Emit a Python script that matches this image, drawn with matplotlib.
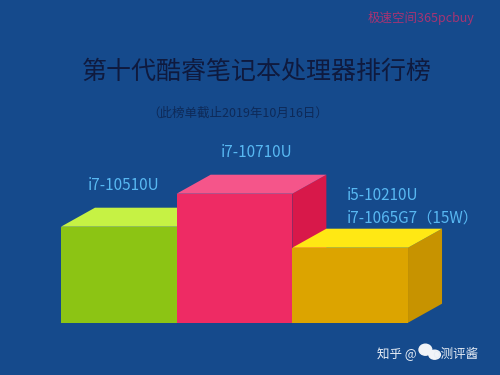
import matplotlib.pyplot as plt
from matplotlib.patches import Polygon, Ellipse

plt.rcParams['font.family'] = ['Noto Sans CJK SC', 'DejaVu Sans']

# data (bar heights, relative units)
cpus = ["i7-10510U", "i7-10710U", "i5-10210U\ni7-1065G7（15W）"]
scores = [96, 129, 75]
front_cols = ["#8cc414", "#ee2b64", "#dca400"]
top_cols = ["#c6f244", "#f5558a", "#ffe814"]
side_cols = ["#78a810", "#d8184a", "#c79300"]

bg = "#154a8c"
fig = plt.figure(figsize=(5, 3.75), dpi=100)
fig.patch.set_facecolor(bg)
ax = fig.add_axes([0, 0, 1, 1])
ax.set_facecolor(bg)
ax.set_xlim(-0.527, 3.795)
ax.set_ylim(-52.3, 322.7)
ax.axis("off")

dx, dy = 0.294, 19  # oblique depth of the boxes
label_dx = [0.23, 0.38, 0.47]

x = range(len(scores))
bars = ax.bar(x, scores, width=1.0, align="edge", color=front_cols, zorder=2)
for i, b in enumerate(bars):
    x0, x1, h = b.get_x(), b.get_x() + b.get_width(), b.get_height()
    z = 2 + i
    b.set_zorder(z + 0.5)
    side = Polygon([(x1, 0), (x1 + dx, dy), (x1 + dx, h + dy), (x1, h)],
                   closed=True, facecolor=side_cols[i], edgecolor="none", zorder=z)
    top = Polygon([(x0, h), (x0 + dx, h + dy), (x1 + dx, h + dy), (x1, h)],
                  closed=True, facecolor=top_cols[i], edgecolor="none", zorder=z)
    ax.add_patch(side)
    ax.add_patch(top)
    ax.text(x0 + label_dx[i], h + 41, cpus[i], color="#58b8f2", fontsize=11,
            ha="left", va="center", linespacing=1.45, zorder=10)

# titles
fig.text(0.514, 1 - 72 / 375, "第十代酷睿笔记本处理器排行榜", color="#0f1a3e",
         fontsize=18, ha="center", va="center", fontweight="medium")
fig.text(0.475, 1 - 113 / 375, "（此榜单截止2019年10月16日）", color="#0e2a58",
         fontsize=9, ha="center", va="center")
fig.text(0.842, 1 - 18 / 375, "极速空间365pcbuy", color="#c0306e",
         fontsize=9, ha="center", va="center", alpha=0.85)

# watermark bottom right
fig.text(0.754, 1 - 353 / 375, "知乎 @      o测评酱", color="#e8eef6",
         fontsize=9, ha="left", va="center")
ax.add_patch(Ellipse((3.15, -27), 0.11, 11, color="#f2f4f8", zorder=10))
ax.add_patch(Ellipse((3.23, -32), 0.1, 9, color="#f2f4f8", zorder=10))

fig.savefig("out.png", dpi=100, facecolor=bg)
